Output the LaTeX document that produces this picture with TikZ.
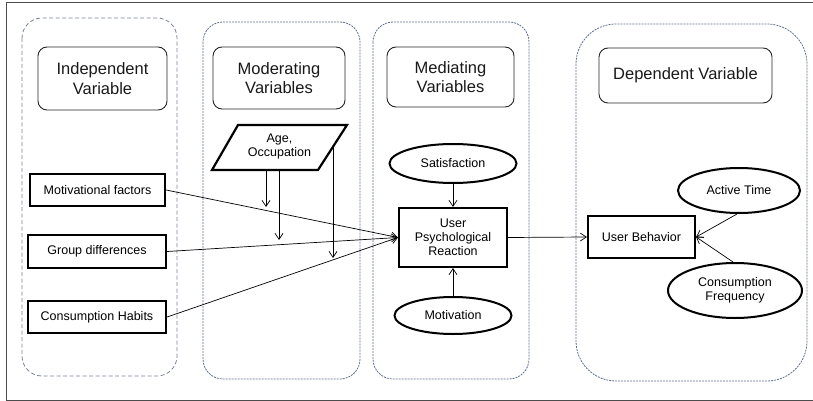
\documentclass[tikz,border=0pt]{standalone}
\usepackage{fontspec}
\setmainfont{Liberation Sans}
\usetikzlibrary{arrows.meta,shapes.geometric}
\definecolor{cblue}{HTML}{5F6F8F}
\definecolor{cgray}{HTML}{7A8294}
\begin{document}
\begin{tikzpicture}[x=1pt,y=-1pt,
  container/.style={draw=cblue, dash pattern=on 2pt off 1pt, line width=0.8pt},
  ttl/.style={draw=black!85, rounded corners=9pt, line width=0.9pt, font=\fontsize{16.5}{19.5}\selectfont, align=center, inner sep=0pt, text=black!90},
  bx/.style={draw, line width=2.2pt, font=\fontsize{12.5}{14}\selectfont, align=center, inner sep=0pt},
  el/.style={ellipse, draw, line width=2pt, font=\fontsize{12.5}{14}\selectfont, align=center, inner sep=0pt},
  arr/.style={-{Straight Barb[length=6pt,width=8pt]}, line width=0.7pt},
  ln/.style={line width=0.7pt}]
\useasboundingbox (0,0) rectangle (813,401);
% outer frame
\draw[line width=1pt, black!70] (814,3) -- (6,3) -- (6,400) -- (814,400);
% containers
\draw[draw=cgray, dash pattern=on 4pt off 2.5pt, line width=0.8pt, rounded corners=20pt] (22,18) rectangle (177,376);
\draw[container, rounded corners=20pt] (203,22) rectangle (360,379);
\draw[container, rounded corners=20pt] (373,22) rectangle (529,379);
\draw[container, rounded corners=40pt] (576,24) rectangle (807,381);
% titles
\node[ttl, minimum width=129pt, minimum height=63pt] (ti) at (102.5,78.5) {Independent\\Variable};
\node[ttl, minimum width=132pt, minimum height=62pt] (tm) at (279,78) {Moderating\\Variables};
\node[ttl, minimum width=127pt, minimum height=60pt] (tmed) at (450.5,77) {Mediating\\Variables};
\node[ttl, minimum width=173pt, minimum height=55pt] (td) at (685.5,75.5) {Dependent Variable};
% independent
\node[bx, minimum width=135pt, minimum height=32pt] (mf) at (97.5,190) {Motivational factors};
\node[bx, minimum width=138pt, minimum height=33pt] (gd) at (97,251.5) {Group differences};
\node[bx, minimum width=138pt, minimum height=32pt] (ch) at (97,317) {Consumption Habits};
% moderating parallelogram
\draw[line width=2.2pt, line join=miter] (238,125) -- (347,125) -- (318,170) -- (212,170) -- cycle;
\node[font=\fontsize{12.5}{14}\selectfont, align=center, inner sep=0pt] (age) at (279.5,146) {Age,\\Occupation};
% mediating
\node[el, minimum width=127pt, minimum height=39pt] (sat) at (453,163.5) {Satisfaction};
\node[bx, minimum width=108pt, minimum height=59pt] (upr) at (453,237.5) {User\\Psychological\\Reaction};
\node[el, minimum width=117pt, minimum height=37pt] (mot) at (453,315.5) {Motivation};
% dependent
\node[bx, minimum width=107pt, minimum height=42pt] (ub) at (641.5,237) {User Behavior};
\node[el, minimum width=122pt, minimum height=45pt] (at) at (739,190.5) {Active Time};
\node[el, minimum width=134pt, minimum height=55pt] (cf) at (735,290.5) {Consumption\\Frequency};
% moderator lines
\coordinate (m1s) at (266,170);
\coordinate (m1e) at (266,207);
\coordinate (m2s) at (279,170);
\coordinate (m2e) at (279,240);
\coordinate (m3s) at (333,147);
\coordinate (m3e) at (333,258);
\draw[arr] (m1s) -- (m1e);
\draw[arr] (m2s) -- (m2e);
\draw[arr] (m3s) -- (m3e);
% connectors
\draw[arr] (mf.east) -- (upr.west);
\draw[arr] (gd.east) -- (upr.west);
\draw[arr] (ch.east) -- (upr.west);
\draw[arr] (sat.south) -- (upr.north);
\draw[arr] (mot.north) -- (upr.south);
\draw[arr] (upr.east) -- (ub.west);
\draw[arr] ([xshift=-2pt]at.south) -- (ub.east);
\draw[arr] ([xshift=-2pt]cf.north) -- (ub.east);
\end{tikzpicture}
\end{document}
